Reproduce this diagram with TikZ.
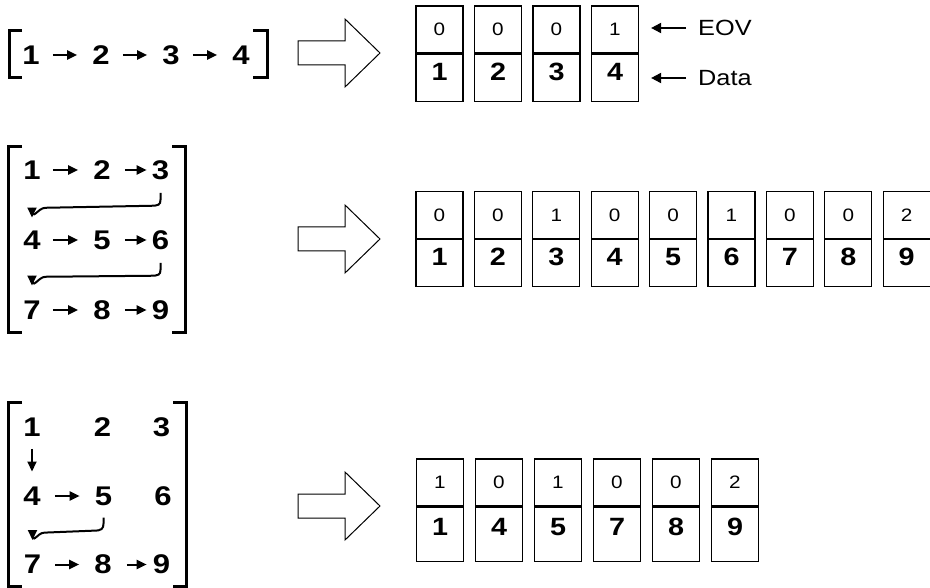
\documentclass[tikz,border=0pt]{standalone}
\usepackage{fontspec}
\setmainfont{Liberation Sans}[FakeStretch=1.15]
\usetikzlibrary{calc,positioning,arrows.meta}
\tikzset{
    num/.style={inner sep=0pt,font=\fontsize{27}{27}\selectfont\bfseries},
    eov cell/.style={
        draw,line width=1.2pt,
        minimum width=47pt,minimum height=47pt,inner sep=0pt,
        font=\fontsize{18}{18}\selectfont
    },
    data cell/.style={
        draw,line width=1.2pt,
        minimum width=47pt,minimum height=47pt,inner sep=0pt,
        text height=18pt,text depth=13pt,
        font=\fontsize{25}{25}\selectfont\bfseries
    },
    link/.style={line width=2pt,-{Triangle[length=10pt,width=9pt]},
        shorten <=13pt,shorten >=15pt},
    bracket/.style={line width=3pt},
    fat arrow/.style={line width=1pt,line join=miter},
    tag/.style={inner sep=0pt,anchor=west,font=\fontsize{22}{22}\selectfont}
}
\begin{document}
\begin{tikzpicture}[x=1pt,y=-1pt]
\useasboundingbox (0,0) rectangle (930,588);
% chain 1 x 4
\draw[bracket] (22,31) -- (9,31) -- (9,78) -- (22,78);
\draw[bracket] (253,31) -- (267,31) -- (267,78) -- (253,78);
\foreach \i/\x in {1/31,2/101,3/171,4/241}
    \node[num] (a\i) at (\x,55) {\i};
\foreach \i/\j in {1/2,2/3,3/4}
    \draw[link] (a\i) -- (a\j);
% chain 3 x 3, row by row
\draw[bracket] (22,147) -- (8,147) -- (8,333) -- (22,333);
\draw[bracket] (172,147) -- (185,147) -- (185,333) -- (172,333);
\foreach \i/\x/\y in {1/32/170,2/102/170,3/160.5/170,4/32/240,5/102/240,6/160.5/240,7/32/310,8/102/310,9/160.5/310}
    \node[num] (b\i) at (\x,\y) {\i};
\foreach \i/\j in {1/2,4/5,7/8}
    \draw[link,shorten <=12pt] (b\i) -- (b\j);
\foreach \i/\j in {2/3,5/6,8/9}
    \draw[link,shorten <=14pt,shorten >=5pt] (b\i) -- (b\j);
\draw[link,shorten <=13pt,shorten >=13pt] (b3.south) -- ++(0,20)
    .. controls +(0,5) and +(8,0) .. ++(-10,6) -- ++(-105,2)
    .. controls +(-8,0) and +(0,-8) .. (b4.north);
\draw[link,shorten <=13pt,shorten >=15pt] (b6.south) -- ++(0,20)
    .. controls +(0,5) and +(8,0) .. ++(-10,6) -- ++(-105,1)
    .. controls +(-8,0) and +(0,-8) .. (b7.north);
% chain 3 x 3, skipping
\draw[bracket] (22,402) -- (8,402) -- (8,586) -- (22,586);
\draw[bracket] (173,402) -- (186,402) -- (186,586) -- (173,586);
\foreach \i/\x/\y in {1/32/427.5,2/102.5/427.5,3/161.5/427.5,4/32/496,5/103.5/496,6/163/496,7/32.5/564.5,8/103/564.5,9/161.5/564.5}
    \node[num] (c\i) at (\x,\y) {\i};
\draw[link,shorten <=12pt,shorten >=15pt] (c1) -- (c4);
\draw[link,shorten <=14pt] (c4) -- (c5);
\draw[link,shorten <=14pt] (c7) -- (c8);
\draw[link,shorten <=15pt,shorten >=6pt] (c8) -- (c9);
\draw[link,shorten <=12pt,shorten >=15pt] (c5.south) -- ++(0,18)
    .. controls +(0,5) and +(7,0) .. ++(-9,7) -- ++(-50,2)
    .. controls +(-8,0) and +(0,-8) .. (c7.north);
% hollow arrows
\foreach \y in {53,239,506}
    \draw[fat arrow] (298,\y-12) -- (345,\y-12) -- (345,\y-34) -- (380,\y)
        -- (345,\y+34) -- (345,\y+12) -- (298,\y+12) -- cycle;
% EOV / data vectors
\foreach \i/\e in {1/0,2/0,3/0,4/1} {
    \node[eov cell] (e\i) at (439.5+58.5*\i-58.5,29.5) {\e};
    \node[data cell,below=0pt of e\i] (d\i) {\i};
}
\node[tag] (eovlbl) at (698,28) {EOV};
\node[tag] (datalbl) at (698,78) {Data};
\draw[link,-{Triangle[length=10pt,width=10pt]},shorten <=12pt,shorten >=12pt]
    (eovlbl.west) -- (eovlbl.west -| e4.east);
\draw[link,-{Triangle[length=10pt,width=10pt]},shorten <=12pt,shorten >=12pt]
    (datalbl.west) -- (datalbl.west -| d4.east);
\foreach \i/\e in {1/0,2/0,3/1,4/0,5/0,6/1,7/0,8/0,9/2} {
    \node[eov cell] (f\i) at (439.5+58.4*\i-58.4,215) {\e};
    \node[data cell,below=0pt of f\i] (g\i) {\i};
}
\foreach \i/\e/\d in {1/1/1,2/0/4,3/1/5,4/0/7,5/0/8,6/2/9} {
    \node[eov cell] (h\i) at (440+59*\i-59,482.5) {\e};
    \node[data cell,minimum height=54pt,text depth=16pt,below=0pt of h\i] (k\i) {\d};
}
\end{tikzpicture}
\end{document}
